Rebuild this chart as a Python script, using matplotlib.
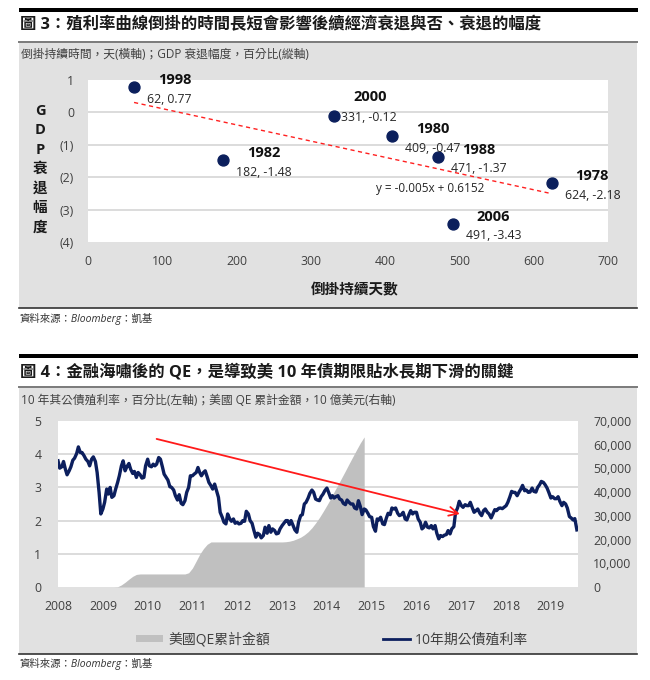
import numpy as np
import pandas as pd
import matplotlib
matplotlib.use('Agg')
import matplotlib.pyplot as plt
import matplotlib.dates as mdates
from matplotlib.patches import Rectangle, Patch
from matplotlib.lines import Line2D

plt.rcParams['font.family'] = ['Open Sans', 'Noto Sans CJK TC']

W, H = 650, 680

# ---- chart 3: inversion length vs GDP drawdown
rec_years = ['1998', '1982', '2000', '1980', '1988', '1978', '2006']
inv_days = [62, 182, 331, 409, 471, 624, 491]
gdp_drop = [0.77, -1.48, -0.12, -0.74, -1.37, -2.18, -3.43]
value_labels = ['62, 0.77', '182, -1.48', '331, -0.12', '409, -0.47',
                '471, -1.37', '624, -2.18', '491, -3.43']
trend_text = 'y = -0.005x + 0.6152'
y1_ticks = [-4, -3, -2, -1, 0, 1]
y1_ticklabels = ['(4)', '(3)', '(2)', '(1)', '0', '1']

# ---- chart 4: 10y yield (semi-monthly, from 2008-01) and QE total (monthly)
ust10y = [
    3.80, 3.58, 3.62, 3.78, 3.55, 3.38, 3.50, 3.62, 3.82, 3.88, 4.02, 4.22,
    4.05, 4.05, 3.95, 3.85, 3.78, 3.65, 3.85, 3.92, 3.78, 3.45, 2.85, 2.20,  # 2008
    2.35, 2.55, 2.95, 2.80, 3.00, 2.70, 2.75, 2.95, 3.15, 3.35, 3.65, 3.80,
    3.50, 3.62, 3.72, 3.55, 3.42, 3.48, 3.30, 3.45, 3.38, 3.28, 3.30, 3.65,  # 2009
    3.85, 3.65, 3.62, 3.70, 3.65, 3.70, 3.90, 3.85, 3.62, 3.40, 3.30, 3.22,
    3.02, 3.00, 2.92, 2.75, 2.62, 2.78, 2.52, 2.48, 2.60, 2.85, 3.00, 3.35,  # 2010
    3.35, 3.40, 3.45, 3.60, 3.45, 3.35, 3.45, 3.50, 3.32, 3.15, 3.05, 2.95,
    3.10, 2.92, 2.70, 2.25, 2.10, 1.95, 1.90, 2.20, 2.05, 1.98, 2.05, 1.92,  # 2011
    1.95, 1.90, 1.92, 2.00, 1.98, 2.28, 2.20, 2.00, 1.92, 1.72, 1.50, 1.62,
    1.58, 1.48, 1.55, 1.80, 1.62, 1.85, 1.65, 1.75, 1.70, 1.60, 1.62, 1.75,  # 2012
    1.85, 1.92, 2.00, 2.00, 1.88, 2.00, 1.85, 1.72, 1.65, 1.95, 2.15, 2.18,
    2.50, 2.55, 2.68, 2.82, 2.92, 2.85, 2.65, 2.62, 2.60, 2.72, 2.80, 2.90,  # 2013
    2.98, 2.85, 2.68, 2.75, 2.68, 2.72, 2.75, 2.65, 2.62, 2.52, 2.48, 2.62,
    2.55, 2.50, 2.50, 2.38, 2.35, 2.60, 2.42, 2.18, 2.35, 2.32, 2.22, 2.12,  # 2014
    2.10, 1.82, 1.68, 2.05, 2.02, 2.10, 1.90, 1.88, 2.08, 2.22, 2.18, 2.38,
    2.35, 2.38, 2.22, 2.15, 2.18, 2.25, 2.05, 2.02, 2.18, 2.30, 2.20, 2.25,  # 2015
    2.25, 2.05, 1.95, 1.75, 1.80, 1.95, 1.80, 1.78, 1.85, 1.75, 1.85, 1.62,
    1.45, 1.55, 1.52, 1.56, 1.58, 1.70, 1.60, 1.75, 1.82, 2.25, 2.38, 2.58,  # 2016
    2.45, 2.40, 2.48, 2.45, 2.45, 2.55, 2.38, 2.25, 2.30, 2.35, 2.22, 2.15,
    2.30, 2.35, 2.25, 2.20, 2.08, 2.20, 2.33, 2.30, 2.37, 2.38, 2.36, 2.40,  # 2017
    2.45, 2.55, 2.72, 2.88, 2.85, 2.85, 2.75, 2.85, 2.95, 3.06, 2.90, 2.92,
    2.85, 2.86, 2.98, 2.88, 2.86, 3.00, 3.08, 3.18, 3.15, 3.08, 2.98, 2.85,  # 2018
    2.68, 2.72, 2.66, 2.66, 2.72, 2.58, 2.45, 2.55, 2.50, 2.38, 2.12, 2.08,
    2.02, 2.06, 1.72,                                                        # 2019
]
qe_total = [
    0, 0, 0, 0, 0, 0, 0, 0, 0, 0, 0, 0,                                          # 2008
    0, 0, 0, 0, 100, 900, 2000, 3300, 4500, 5300, 5500, 5500,                    # 2009
    5500, 5500, 5500, 5500, 5500, 5500, 5500, 5500, 5500, 5500, 5500, 6000,      # 2010
    8000, 11000, 13800, 16200, 18000, 19000, 19000, 19000, 19000, 19000, 19000, 19000,  # 2011
    19000, 19000, 19000, 19000, 19000, 19000, 19000, 19000, 19000, 19000, 19000, 19000,  # 2012
    19000, 19100, 19300, 19700, 20300, 21000, 22000, 23300, 25000, 27000, 29300, 31800,  # 2013
    34500, 37300, 40200, 43100, 46000, 49000, 52000, 55000, 58000, 60800, 63300,        # 2014
]
arrow_from = ('2010-03-15', 4.46)
arrow_to = ('2016-12-20', 2.20)
year_ticks = [str(y) for y in range(2008, 2020)]

ust_dates = pd.date_range('2008-01-01', periods=len(ust10y), freq='SMS')
qe_dates = pd.date_range('2008-01-01', periods=len(qe_total), freq='MS')


def fx(x):
    return x / W


def fy(y):
    return 1 - y / H


fig = plt.figure(figsize=(6.5, 6.8), dpi=100)

# panels, rules and headings
for bar_top in [8, 354]:
    fig.add_artist(Rectangle((fx(19), fy(bar_top + 4)), fx(638) - fx(19), 4 / H,
                             facecolor='black', edgecolor='none', zorder=-1))
for top, bottom in [(43, 308), (388, 654)]:
    fig.add_artist(Rectangle((fx(19), fy(bottom)), fx(637) - fx(19), (bottom - top) / H,
                             facecolor='#e1e1e1', edgecolor='none', zorder=-2))
    fig.add_artist(Line2D([fx(19), fx(637)], [fy(top - 1)] * 2, color='#7a7a7a', lw=1.4))
    fig.add_artist(Line2D([fx(19), fx(637)], [fy(bottom)] * 2, color='#333333', lw=1.2))

fig.text(fx(20), fy(25), '圖 3：殖利率曲線倒掛的時間長短會影響後續經濟衰退與否、衰退的幅度',
         fontsize=11.8, fontweight='bold', va='center', color='#1a1a1a')
fig.text(fx(21), fy(55), '倒掛持續時間，天(橫軸)；GDP 衰退幅度，百分比(縱軸)',
         fontsize=8.5, va='center', color='#404040')
fig.text(fx(20), fy(319), '資料來源：Bloomberg：凱基', fontsize=7.5, style='italic',
         va='center', color='#333333')

fig.text(fx(20), fy(372), '圖 4：金融海嘯後的 QE，是導致美 10 年債期限貼水長期下滑的關鍵',
         fontsize=11.8, fontweight='bold', va='center', color='#1a1a1a')
fig.text(fx(21), fy(400), '10 年其公債殖利率，百分比(左軸)；美國 QE 累計金額，10 億美元(右軸)',
         fontsize=8.5, va='center', color='#404040')
fig.text(fx(20), fy(664), '資料來源：Bloomberg：凱基', fontsize=7.5, style='italic',
         va='center', color='#333333')

# ---- chart 3
ax1 = fig.add_axes([fx(88), fy(242), 520 / W, 162 / H])
ax1.scatter(inv_days, gdp_drop, s=62, color='#0b1f5c', zorder=3)
coef = np.polyfit(inv_days, gdp_drop, 1)
xs = np.array([min(inv_days), max(inv_days)])
ax1.plot(xs, np.polyval(coef, xs), color='#ff2020', ls=(0, (3, 2.5)), lw=1)
ax1.text(460, -2.34, trend_text, ha='center', va='center', fontsize=8.5, color='#262626')

for yr, xv, yv, lab in zip(rec_years, inv_days, gdp_drop, value_labels):
    if yr == '2000':
        yoff, voff = (20, 19), (7, -1)
    else:
        yoff, voff = (24, 7), (13, -12)
    ax1.annotate(yr, (xv, yv), xytext=yoff, textcoords='offset pixels',
                 fontsize=10.5, fontweight='bold', va='center', color='#111111')
    ax1.annotate(lab, (xv, yv), xytext=voff, textcoords='offset pixels',
                 fontsize=8.8, va='center', color='#262626')

ax1.set_xlim(0, 700)
ax1.set_ylim(-4, 1)
ax1.set_xticks(range(0, 701, 100))
ax1.set_yticks(y1_ticks)
ax1.set_yticklabels(y1_ticklabels)
ax1.grid(axis='y', color='#d9d9d9', lw=1.3)
gl = ax1.get_ygridlines()
gl[0].set_visible(False)
gl[-1].set_visible(False)
ax1.set_axisbelow(True)
for s in ax1.spines.values():
    s.set_visible(False)
ax1.tick_params(length=0, labelsize=8.8, labelcolor='#404040')
ax1.tick_params(axis='x', pad=9)
ax1.tick_params(axis='y', pad=10)

for i, ch in enumerate('GDP衰退幅度'):
    fig.text(fx(40), fy(111 + i * 19.4), ch, fontsize=10.5, fontweight='bold',
             ha='center', va='center', color='#1a1a1a')
fig.text(fx(355), fy(290), '倒掛持續天數', fontsize=10.5, fontweight='bold',
         ha='center', va='center', color='#1a1a1a')

# ---- chart 4
ax_g = fig.add_axes([fx(58), fy(587), 520 / W, 166 / H])
ax_q = ax_g.twinx()
ax_l = ax_g.twinx()

ax_q.fill_between(qe_dates, qe_total, color='#c0c0c0', lw=0)
ax_l.plot(ust_dates, ust10y, color='#0c1f5e', lw=2.4)
ax_l.annotate('', xy=(mdates.date2num(pd.Timestamp(arrow_to[0])), arrow_to[1]),
              xytext=(mdates.date2num(pd.Timestamp(arrow_from[0])), arrow_from[1]),
              arrowprops=dict(arrowstyle='->', color='#ff1a1a', lw=1.3,
                              mutation_scale=16, shrinkA=0, shrinkB=0))

ax_g.set_xlim(pd.Timestamp('2008-01-01'), pd.Timestamp('2019-08-10'))
ax_g.set_xticks(pd.date_range('2008-01-01', '2019-01-01', freq='YS'))
ax_g.set_xticklabels(year_ticks)
ax_g.set_ylim(0, 5)
ax_g.set_yticks(range(6))
ax_g.grid(axis='y', color='#d9d9d9', lw=1.3)
gl = ax_g.get_ygridlines()
gl[0].set_visible(False)
gl[-1].set_visible(False)
ax_l.set_ylim(0, 5)
ax_l.yaxis.set_visible(False)
ax_q.set_ylim(0, 70000)
ax_q.set_yticks(range(0, 70001, 10000))
ax_q.yaxis.set_major_formatter(matplotlib.ticker.FuncFormatter(lambda v, p: f'{int(v):,}'))

for a in (ax_g, ax_q, ax_l):
    for s in a.spines.values():
        s.set_visible(False)
    a.tick_params(length=0, labelsize=8.8, labelcolor='#404040')
ax_g.tick_params(axis='x', pad=9)
ax_g.tick_params(axis='y', pad=12)
ax_q.tick_params(axis='y', pad=11)

handles = [Patch(facecolor='#c0c0c0', edgecolor='none'),
           Line2D([0], [0], color='#0c1f5e', lw=2)]
fig.legend(handles, ['美國QE累計金額', '10年期公債殖利率'], loc='center',
           bbox_to_anchor=(fx(332), fy(640)), ncol=2, frameon=False, fontsize=10,
           handlelength=1.95, handleheight=0.45, handletextpad=0.36, columnspacing=8.1,
           labelcolor='#404040')

fig.savefig('out.png', dpi=100)
